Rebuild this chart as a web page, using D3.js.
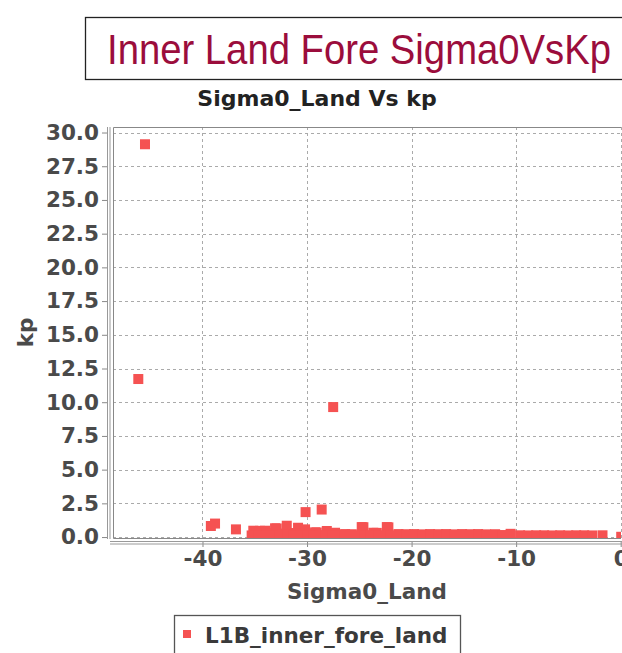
<!DOCTYPE html>
<html>
<head>
<meta charset="utf-8">
<script src="https://cdn.jsdelivr.net/npm/d3@7"></script>
<style>
  body { margin: 0; background: #fff; }
  svg { display: block; }
</style>
</head>
<body>
<svg id="chart" width="622" height="653"></svg>
<script>
"use strict";

// Inner land fore: Sigma0 vs kp

let sigma0 = [
  -45.5, -46.14, -27.5, -39.2, -38.8, -36.8, -30.14, -28.6,
  -35.14, -34.5, -34.02, -34.8, -33.5,
  -33.06, -32.9, -31.94, -32.3, -30.86, -31.2, -30.19,
  -29.23, -29.07, -29.8, -28.11, -27.32,
  -26.36, -25.72, -24.77, -24.61, -23.66, -23.33, -22.37, -22.22,
  -21.26, -20.53, -19.76, -19.0, -18.23, -17.46, -16.7, -15.93,
  -15.17, -14.4, -13.64, -12.87, -12.01, -11.3, -10.53,
  -9.62, -8.85, -8.09, -7.32, -6.56, -5.79, -5.02, -4.26,
  -3.49, -2.73, -1.74, 0.05,
  // low-kp points that fill the dense band under the tops
  -35.3, -34.6, -33.9, -33.2, -32.6, -31.9, -31.3, -30.6, -30.0,
  -29.4, -28.8, -28.2, -27.6, -27.0, -26.4, -25.8, -25.1, -24.5,
  -23.9, -23.2, -22.6, -22.0
];

let kp = [
  29.13, 11.72, 9.64, 0.82, 1.0, 0.57, 1.85, 2.04,
  0.47, 0.46, 0.47, 0.28, 0.3,
  0.65, 0.64, 0.84, 0.26, 0.69, 0.3, 0.57,
  0.35, 0.34, 0.25, 0.45, 0.32,
  0.22, 0.21, 0.74, 0.73, 0.32, 0.31, 0.74, 0.72,
  0.22, 0.21, 0.22, 0.2, 0.22, 0.21, 0.22, 0.2,
  0.22, 0.21, 0.22, 0.2, 0.21, 0.15, 0.24,
  0.13, 0.12, 0.13, 0.13, 0.12, 0.13, 0.12, 0.13,
  0.13, 0.12, 0.13, 0.02,
  0.12, 0.15, 0.1, 0.14, 0.11, 0.16, 0.12, 0.1, 0.13,
  0.15, 0.11, 0.14, 0.1, 0.12, 0.16, 0.11, 0.13, 0.1,
  0.14, 0.12, 0.11, 0.13
];

let xTicks = [-40, -30, -20, -10, 0];
let yTicks = [0, 2.5, 5, 7.5, 10, 12.5, 15, 17.5, 20, 22.5, 25, 27.5, 30];

let seriesName = "L1B_inner_fore_land";

let points = sigma0.map((s, i) => ({ x: s, y: kp[i] }));

let svg = d3.select("#chart");
let font = "'DejaVu Sans', sans-serif";

let plot = { left: 113, top: 127, right: 621, bottom: 538 };

let x = d3.scaleLinear().domain([-48.56, 0.03]).range([plot.left, plot.right]);
let y = d3.scaleLinear().domain([-0.07, 30.41]).range([plot.bottom, plot.top]);

// page title box
svg.append("rect")
  .attr("x", 85.5).attr("y", 17.5)
  .attr("width", 540).attr("height", 62)
  .attr("fill", "#fff").attr("stroke", "#222").attr("stroke-width", 1.3);

svg.append("text")
  .attr("x", 107).attr("y", 64)
  .attr("textLength", 504).attr("lengthAdjust", "spacingAndGlyphs")
  .style("font-family", "'Liberation Sans', Arial, sans-serif")
  .style("font-size", "42px")
  .attr("fill", "#9b0d3c")
  .text("Inner Land Fore Sigma0VsKp");

// chart title
svg.append("text")
  .attr("x", 317).attr("y", 106)
  .attr("text-anchor", "middle")
  .style("font-family", font).style("font-size", "22px").style("font-weight", "bold")
  .attr("fill", "#222")
  .text("Sigma0_Land Vs kp");

// grid
let grid = svg.append("g");
grid.selectAll(".gy").data(yTicks).enter().append("line")
  .attr("x1", plot.left).attr("x2", plot.right)
  .attr("y1", (d) => Math.round(y(d)) + 0.5).attr("y2", (d) => Math.round(y(d)) + 0.5)
  .attr("stroke", "#aaa").attr("stroke-dasharray", "3,3");
grid.selectAll(".gx").data(xTicks).enter().append("line")
  .attr("y1", plot.top).attr("y2", plot.bottom)
  .attr("x1", (d) => Math.round(x(d)) + 0.5).attr("x2", (d) => Math.round(x(d)) + 0.5)
  .attr("stroke", "#aaa").attr("stroke-dasharray", "3,3");

// points
svg.append("clipPath").attr("id", "clip")
  .append("rect")
  .attr("x", plot.left).attr("y", plot.top)
  .attr("width", plot.right - plot.left).attr("height", plot.bottom - plot.top);

svg.append("g").attr("clip-path", "url(#clip)")
  .selectAll("rect").data(points).enter().append("rect")
  .attr("x", (d) => x(d.x) - 5)
  .attr("y", (d) => y(d.y) - 5)
  .attr("width", 10).attr("height", 10)
  .attr("fill", "#f55252");

// plot outline
svg.append("path")
  .attr("d", `M${plot.right},${plot.top + 0.5}H${plot.left + 0.5}V${plot.bottom + 0.5}H${plot.right}`)
  .attr("fill", "none").attr("stroke", "#888");

// axes
let yAxis = svg.append("g")
  .attr("transform", "translate(108,0)")
  .call(d3.axisLeft(y).tickValues(yTicks).tickSize(6).tickPadding(3)
    .tickFormat((d) => d.toFixed(1)));

let xAxis = svg.append("g")
  .attr("transform", "translate(0,542)")
  .call(d3.axisBottom(x).tickValues(xTicks).tickSize(5).tickPadding(4)
    .tickFormat((d) => String(d)));

[yAxis, xAxis].forEach((ax) => {
  ax.select(".domain").remove();
  ax.selectAll(".tick line").attr("stroke", "#888");
  ax.selectAll(".tick text")
    .style("font-family", font).style("font-size", "21.5px").style("font-weight", "bold")
    .attr("fill", "#4a4a4a");
});

// axis lines drawn double, like the reference
[107.5, 110].forEach((px) => {
  svg.append("line").attr("x1", px).attr("x2", px)
    .attr("y1", plot.top).attr("y2", plot.bottom + 1)
    .attr("stroke", "#999");
});
[541.5, 544].forEach((py) => {
  svg.append("line").attr("x1", plot.left - 3).attr("x2", plot.right + 2)
    .attr("y1", py).attr("y2", py)
    .attr("stroke", "#999");
});

// axis labels
svg.append("text")
  .attr("x", (plot.left + plot.right) / 2).attr("y", 599)
  .attr("text-anchor", "middle")
  .style("font-family", font).style("font-size", "21.5px").style("font-weight", "bold")
  .attr("fill", "#4a4a4a")
  .text("Sigma0_Land");

svg.append("text")
  .attr("transform", `translate(33,${(plot.top + plot.bottom) / 2}) rotate(-90)`)
  .attr("text-anchor", "middle")
  .style("font-family", font).style("font-size", "21.5px").style("font-weight", "bold")
  .attr("fill", "#4a4a4a")
  .text("kp");

// legend
let legend = svg.append("g");
legend.append("rect")
  .attr("x", 174.5).attr("y", 615.5)
  .attr("width", 286).attr("height", 50)
  .attr("fill", "#fff").attr("stroke", "#555").attr("stroke-width", 1.3);
legend.append("rect")
  .attr("x", 183).attr("y", 630)
  .attr("width", 8).attr("height", 8)
  .attr("fill", "#f55252");
legend.append("text")
  .attr("x", 205).attr("y", 643)
  .style("font-family", font).style("font-size", "21.5px").style("font-weight", "bold")
  .attr("fill", "#3a3a3a")
  .text(seriesName);
</script>
</body>
</html>
